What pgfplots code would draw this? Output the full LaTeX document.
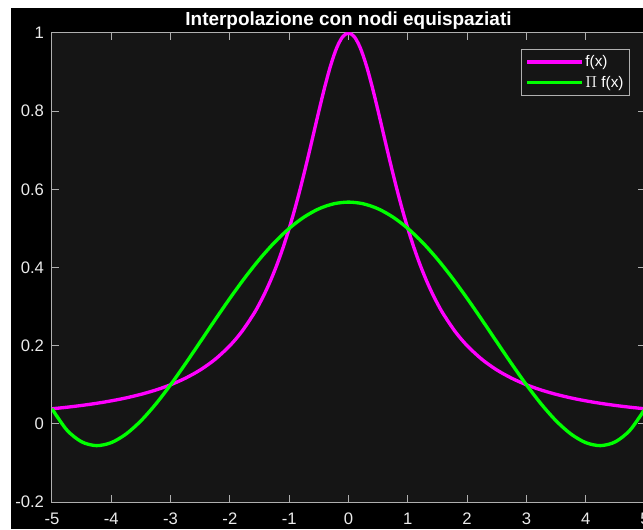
\documentclass[border=0pt]{standalone}
\usepackage{fontspec}
\setmainfont{Liberation Sans}
\usepackage{pgfplots}
\pgfplotsset{compat=1.18}
\definecolor{axbg}{RGB}{21,21,21}
\definecolor{axln}{RGB}{175,175,175}
\definecolor{lbl}{RGB}{235,235,235}
\definecolor{mag}{RGB}{255,0,255}
\definecolor{grn}{RGB}{0,255,0}
\begin{document}
\begin{tikzpicture}
\path[use as bounding box, fill=white] (0,0) rectangle (482.25pt,396.75pt);
\fill[black] (8.25pt,0) rectangle (482.25pt,390.75pt);
\begin{axis}[
  scale only axis, width=444.75pt, height=351.75pt,
  anchor=south west, at={(39pt,20.25pt)},
  xmin=-5, xmax=5, ymin=-0.2, ymax=1,
  axis background/.style={fill=axbg},
  axis line style={axln, line width=0.75pt},
  every tick/.style={axln, line width=0.75pt},
  major tick length=5pt,
  tick align=inside,
  xtick={-5,-4,-3,-2,-1,0,1,2,3,4,5},
  ytick={-0.2,0,0.2,0.4,0.6,0.8,1},
  /pgf/number format/assume math mode=true,
  /pgf/number format/fixed,
  ticklabel style={font=\fontsize{12.5pt}{14pt}\selectfont, text=lbl, inner sep=0pt},
  xticklabel style={anchor=north, yshift=-8.3pt},
  yticklabel style={anchor=east, xshift=-5.8pt},
  title={Interpolazione con nodi equispaziati},
  title style={at={(0.5,1)}, anchor=base, yshift=-0.75pt, font=\bfseries\fontsize{14.2pt}{16pt}\selectfont, text=white, inner sep=0pt},
  legend style={at={(0.9747,0.9652)}, anchor=north east, fill=axbg, draw=axln, line width=0.6pt, text=white,
    font=\fontsize{11.5pt}{13pt}\selectfont, inner xsep=3pt, inner ysep=3pt, row sep=2.3pt,
    nodes={inner sep=1.5pt}},
  legend cell align=left,
  legend image code/.code={\draw[#1, line width=2.8pt] (0pt,0pt) -- (41pt,0pt);},
]
\addplot[mag, line width=2.5pt, smooth] coordinates {
(-5,0.038462) (-4.75,0.042440) (-4.5,0.047059) (-4.25,0.052459) (-4,0.058824)
(-3.75,0.066390) (-3.5,0.075472) (-3.25,0.086486) (-3,0.1) (-2.75,0.116788)
(-2.5,0.137931) (-2.25,0.164948) (-2,0.2) (-1.8,0.235849) (-1.6,0.280899)
(-1.5,0.307692) (-1.4,0.337838) (-1.3,0.371747) (-1.2,0.409836) (-1.1,0.452489)
(-1,0.5) (-0.9,0.552486) (-0.8,0.609756) (-0.7,0.671141) (-0.6,0.735294)
(-0.5,0.8) (-0.4,0.862069) (-0.3,0.917431) (-0.2,0.961538) (-0.1,0.990099)
(0,1)
(0.1,0.990099) (0.2,0.961538) (0.3,0.917431) (0.4,0.862069) (0.5,0.8)
(0.6,0.735294) (0.7,0.671141) (0.8,0.609756) (0.9,0.552486) (1,0.5)
(1.1,0.452489) (1.2,0.409836) (1.3,0.371747) (1.4,0.337838) (1.5,0.307692)
(1.6,0.280899) (1.8,0.235849) (2,0.2) (2.25,0.164948) (2.5,0.137931)
(2.75,0.116788) (3,0.1) (3.25,0.086486) (3.5,0.075472) (3.75,0.066390)
(4,0.058824) (4.25,0.052459) (4.5,0.047059) (4.75,0.042440) (5,0.038462)
};
\addlegendentry{f(x)}
\addplot[grn, line width=2.5pt, smooth] coordinates {
(-5,0.038462) (-4.75,-0.015737) (-4.5,-0.046033) (-4.25,-0.055762) (-4,-0.048076)
(-3.75,-0.025954) (-3.5,0.007813) (-3.25,0.050609) (-3,0.1) (-2.75,0.153734)
(-2.5,0.209736) (-2.25,0.266113) (-2,0.321154) (-1.75,0.373325) (-1.5,0.421275)
(-1.25,0.463830) (-1,0.5) (-0.75,0.528974) (-0.5,0.550120) (-0.25,0.562988)
(0,0.567308)
(0.25,0.562988) (0.5,0.550120) (0.75,0.528974) (1,0.5) (1.25,0.463830)
(1.5,0.421275) (1.75,0.373325) (2,0.321154) (2.25,0.266113) (2.5,0.209736)
(2.75,0.153734) (3,0.1) (3.25,0.050609) (3.5,0.007813) (3.75,-0.025954)
(4,-0.048076) (4.25,-0.055762) (4.5,-0.046033) (4.75,-0.015737) (5,0.038462)
};
\addlegendentry{$\Pi$ f(x)}
\end{axis}
\end{tikzpicture}
\end{document}
